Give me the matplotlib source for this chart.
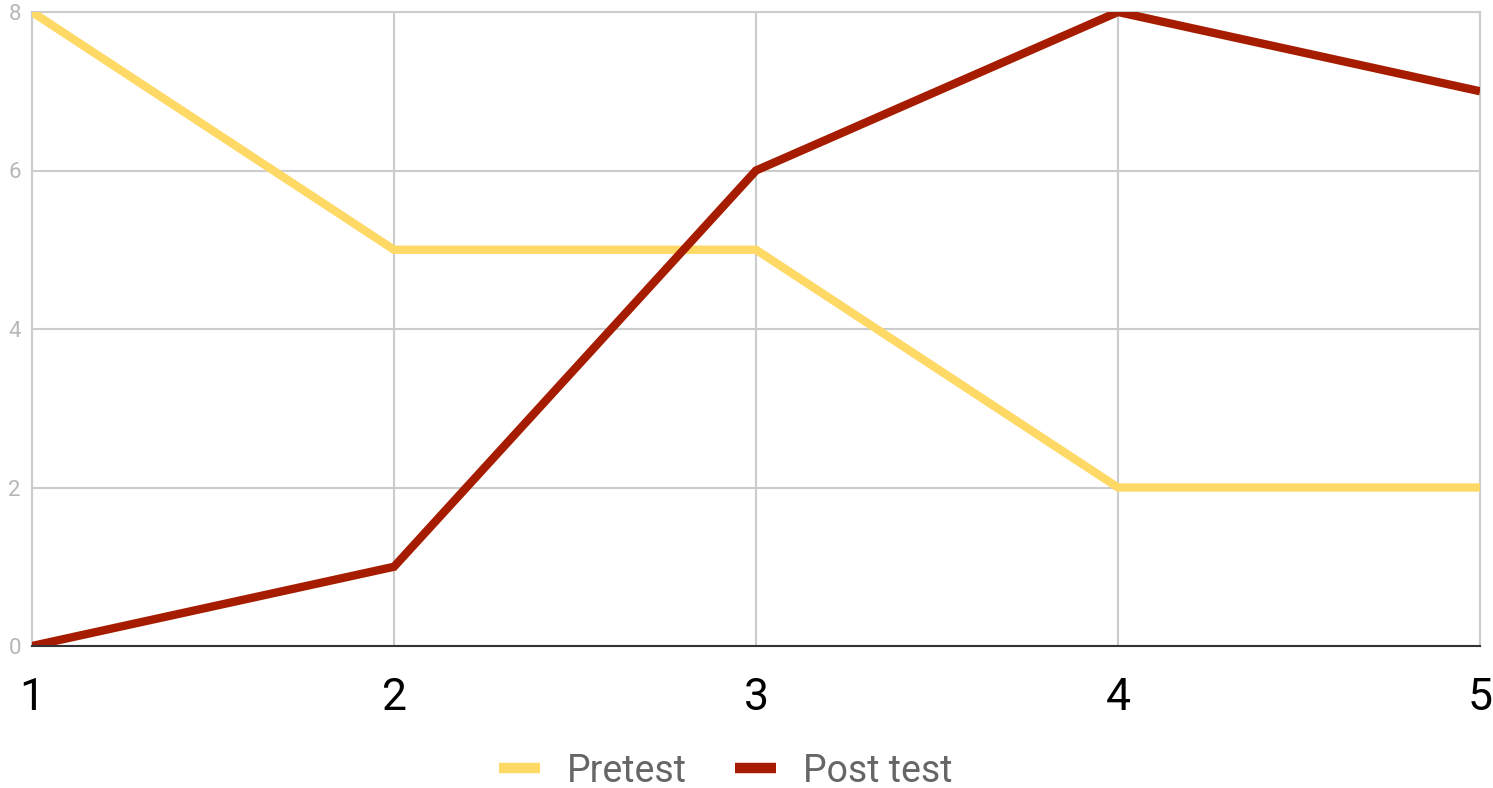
import matplotlib.pyplot as plt

plt.rcParams['font.family'] = ['Roboto', 'DejaVu Sans']

# data
sessions  = [1, 2, 3, 4, 5]
pretest   = [8, 5, 5, 2, 2]
post_test = [0, 1, 6, 8, 7]
y_ticks   = [0, 2, 4, 6, 8]

fig = plt.figure(figsize=(14.93, 7.88), dpi=100)
ax = fig.add_axes([32 / 1493, 142 / 788, 1448 / 1493, 634 / 788])

ax.plot(sessions, pretest, color='#ffd966', linewidth=6, label='Pretest',
        solid_capstyle='butt', solid_joinstyle='miter', zorder=3)
ax.plot(sessions, post_test, color='#a61c00', linewidth=6, label='Post test',
        solid_capstyle='butt', solid_joinstyle='miter', zorder=4)

ax.set_xlim(1, 5)
ax.set_ylim(0, 8)
ax.set_xticks(sessions)
ax.set_yticks(y_ticks)
ax.grid(True, color='#cccccc', linewidth=1.5, zorder=0)
ax.set_axisbelow(True)

for side in ['top', 'right', 'left']:
    ax.spines[side].set_color('#cccccc')
    ax.spines[side].set_linewidth(1.5)
ax.spines['bottom'].set_color('#333333')
ax.spines['bottom'].set_linewidth(1.5)
ax.spines['bottom'].set_zorder(5)

ax.tick_params(axis='x', length=0, pad=22, labelsize=32, labelcolor='#000000')
ax.tick_params(axis='y', length=0, pad=8, labelsize=16, labelcolor='#b7b7b7')

leg = fig.legend(loc='center', bbox_to_anchor=(0.486, 1 - 771 / 788), ncol=2,
                 frameon=False, fontsize=27, handlelength=1.1, handletextpad=0.7,
                 columnspacing=1.3)
for t in leg.get_texts():
    t.set_color('#666666')
for h in leg.get_lines():
    h.set_linewidth(7.5)

fig.savefig('out.png', dpi=100)
